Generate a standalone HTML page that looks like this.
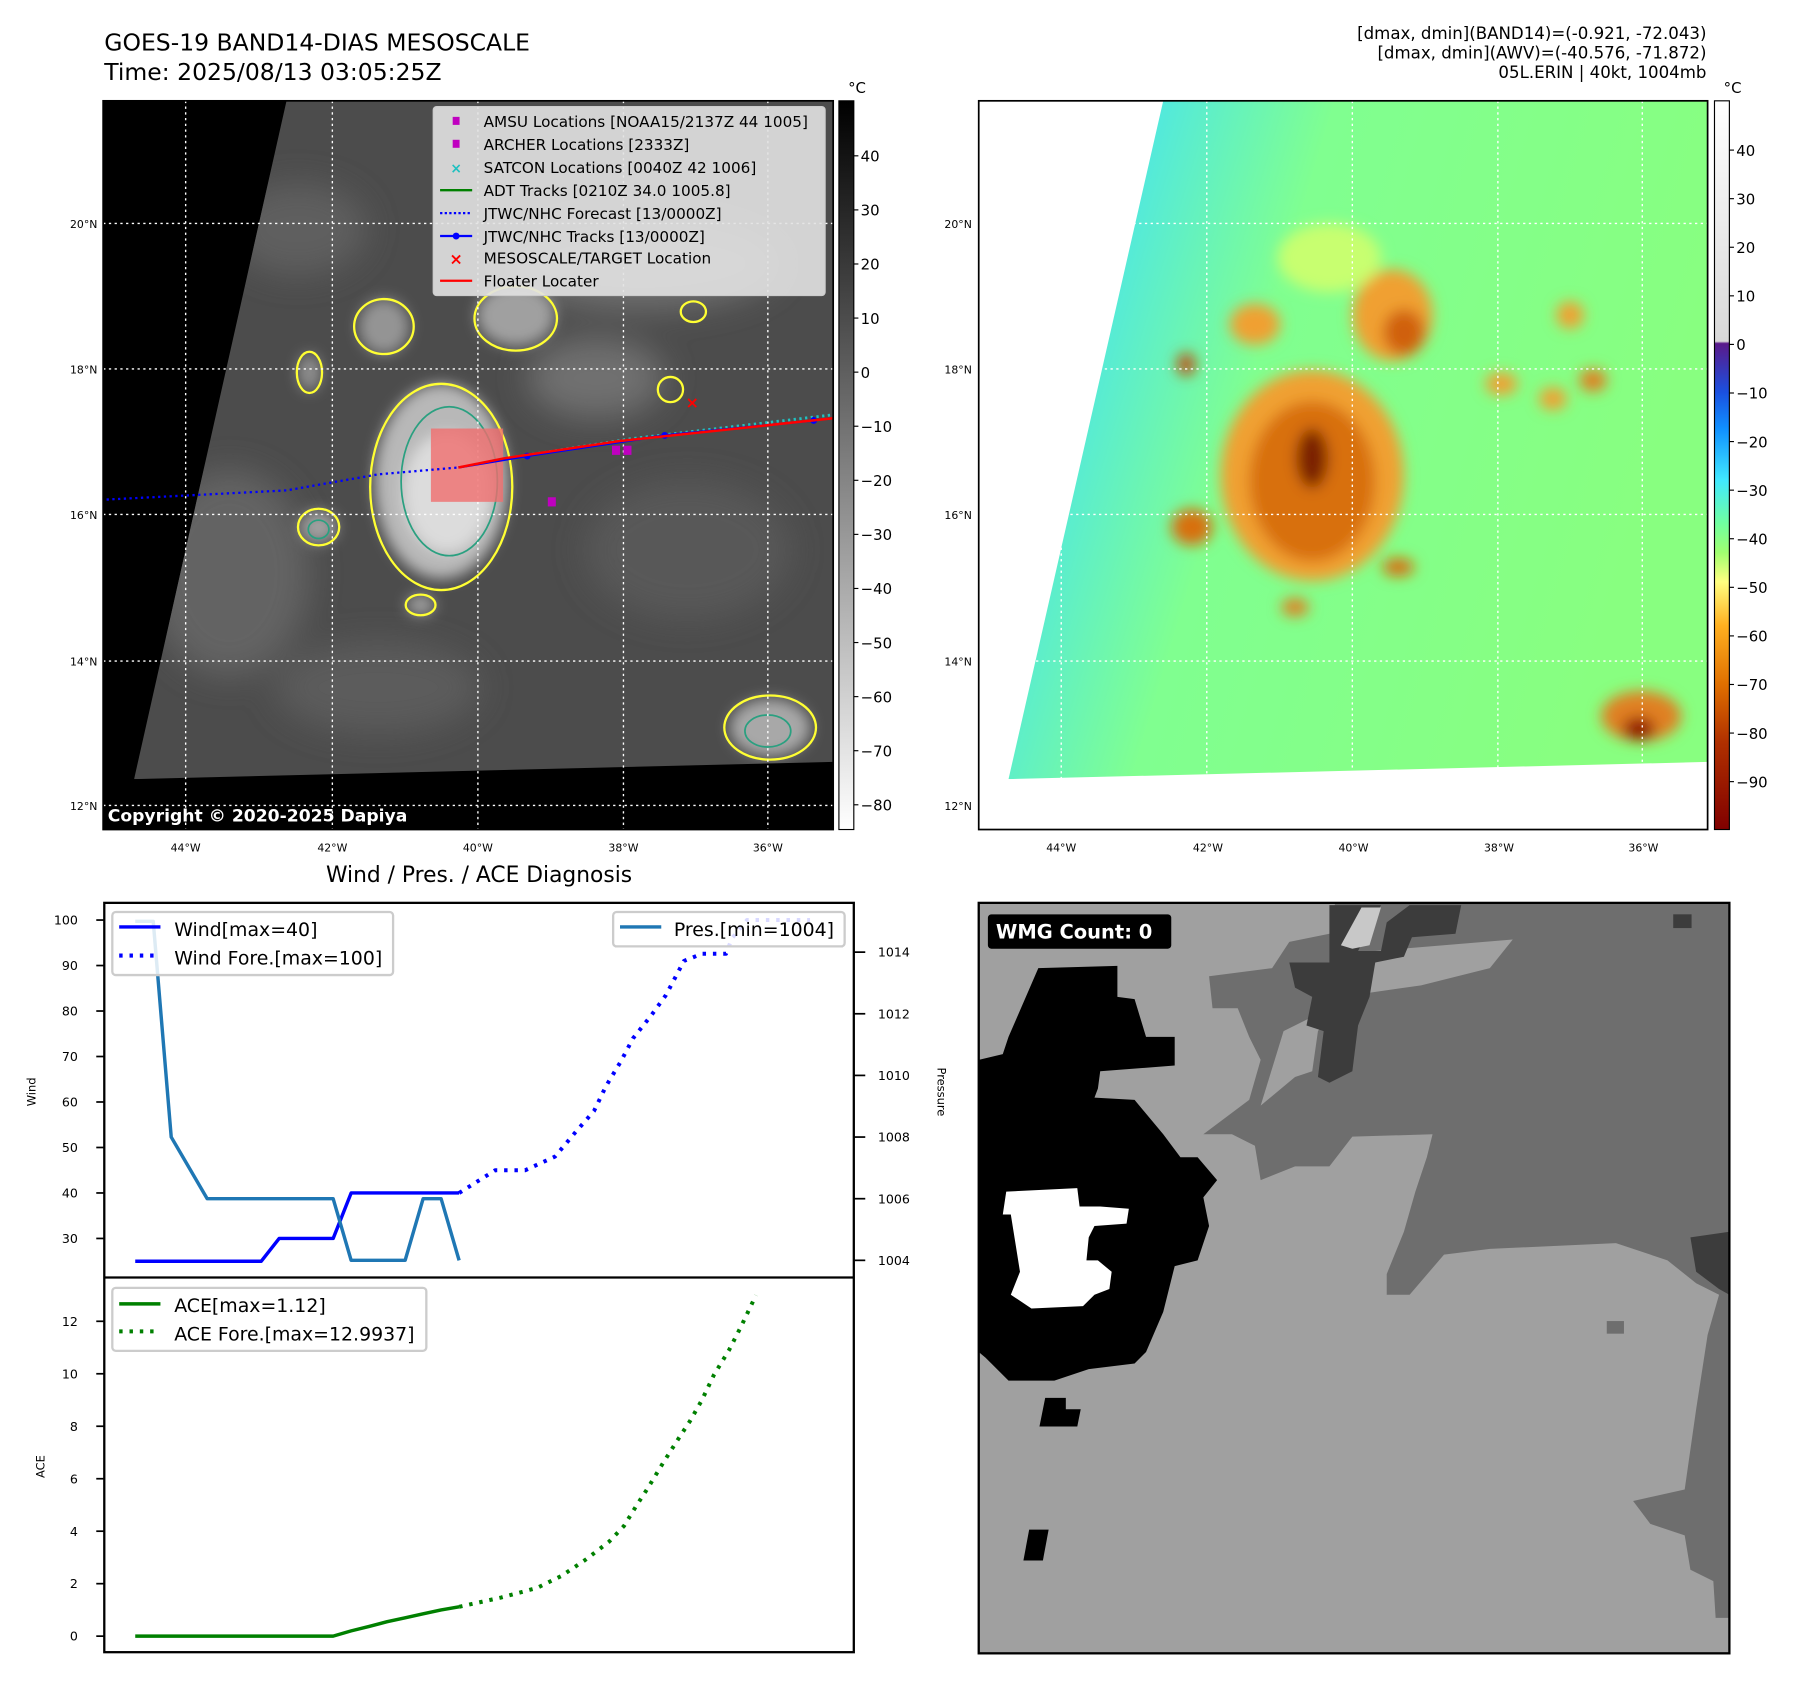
<!DOCTYPE html>
<html><head><meta charset="utf-8"><style>
html,body{margin:0;padding:0;background:#fff;}
svg{display:block;font-family:"DejaVu Sans","Liberation Sans",sans-serif;}
</style></head><body>
<svg id="root" width="1797" height="1690" viewBox="0 0 1568 1475" preserveAspectRatio="none">
<defs>
<linearGradient id="gcb" x1="0" y1="0" x2="0" y2="1"><stop offset="0" stop-color="#000"/><stop offset="1" stop-color="#fff"/></linearGradient>
<linearGradient id="ccb" x1="0" y1="0" x2="0" y2="1">
<stop offset="0" stop-color="#ffffff"/><stop offset="0.33" stop-color="#d8d8d8"/>
<stop offset="0.333" stop-color="#5a1a8a"/><stop offset="0.4" stop-color="#1a50e0"/><stop offset="0.45" stop-color="#1090ff"/>
<stop offset="0.52" stop-color="#40e8ff"/><stop offset="0.58" stop-color="#70ffa0"/><stop offset="0.62" stop-color="#a0ff70"/>
<stop offset="0.66" stop-color="#ffff80"/><stop offset="0.72" stop-color="#ffb020"/><stop offset="0.8" stop-color="#e07000"/>
<stop offset="0.88" stop-color="#b03000"/><stop offset="1" stop-color="#800000"/></linearGradient>
<linearGradient id="rbg" x1="0" y1="0" x2="1" y2="0.3"><stop offset="0" stop-color="#40d0ff"/><stop offset="0.22" stop-color="#50e8e0"/><stop offset="0.45" stop-color="#80ff90"/><stop offset="1" stop-color="#88ff80"/></linearGradient>
<filter id="bl" x="-50%" y="-50%" width="200%" height="200%"><feGaussianBlur stdDeviation="6"/></filter>
<filter id="bl2" x="-50%" y="-50%" width="200%" height="200%"><feGaussianBlur stdDeviation="14"/></filter>
<clipPath id="rclip"><polygon points="1015,88 1490,88 1490,665 880,680"/></clipPath>
<clipPath id="lclip2"><polygon points="250,88 727,88 727,665 117,680"/></clipPath>
</defs>

<text x="91" y="44" font-size="20.5">GOES-19 BAND14-DIAS MESOSCALE</text>
<text x="91" y="70" font-size="20.5">Time: 2025/08/13 03:05:25Z</text>
<g font-size="14.5" text-anchor="end">
<text x="1489" y="34">[dmax, dmin](BAND14)=(-0.921, -72.043)</text>
<text x="1489" y="51">[dmax, dmin](AWV)=(-40.576, -71.872)</text>
<text x="1489" y="68">05L.ERIN | 40kt, 1004mb</text>
</g>

<g>
<rect x="90" y="88" width="637" height="636" fill="#000"/>
<g clip-path="url(#lclip2)">
<rect x="90" y="88" width="637" height="636" fill="#4c4c4c"/>
<g filter="url(#bl2)" fill="#707070">
<ellipse cx="200" cy="500" rx="70" ry="90" fill="#636363"/><ellipse cx="560" cy="230" rx="120" ry="40"/>
<ellipse cx="260" cy="200" rx="60" ry="40" fill="#5e5e5e"/><ellipse cx="600" cy="480" rx="90" ry="60" fill="#595959"/>
<ellipse cx="330" cy="600" rx="90" ry="40" fill="#5c5c5c"/><ellipse cx="520" cy="330" rx="60" ry="35"/>
</g>
<g filter="url(#bl)">
<ellipse cx="385" cy="420" rx="58" ry="85" fill="#b8b8b8"/><ellipse cx="390" cy="430" rx="38" ry="52" fill="#dcdcdc"/>
<ellipse cx="450" cy="275" rx="34" ry="27" fill="#a0a0a0"/><ellipse cx="335" cy="285" rx="22" ry="24" fill="#949494"/>
<ellipse cx="278" cy="460" rx="16" ry="14" fill="#a0a0a0"/><ellipse cx="672" cy="635" rx="35" ry="25" fill="#a8a8a8"/>
<ellipse cx="367" cy="528" rx="12" ry="9" fill="#a0a0a0"/><ellipse cx="270" cy="325" rx="10" ry="16" fill="#909090"/>
</g>
<g fill="none" stroke="#ffff33" stroke-width="2">
<ellipse cx="385" cy="425" rx="62" ry="90"/><ellipse cx="450" cy="278" rx="36" ry="28"/><ellipse cx="335" cy="285" rx="26" ry="24"/>
<ellipse cx="278" cy="460" rx="18" ry="16"/><ellipse cx="672" cy="635" rx="40" ry="28"/><ellipse cx="367" cy="528" rx="13" ry="9"/>
<ellipse cx="270" cy="325" rx="11" ry="18"/><ellipse cx="605" cy="272" rx="11" ry="9"/><ellipse cx="585" cy="340" rx="11" ry="11"/>
</g>
<g fill="none" stroke="#2aa080" stroke-width="1.5">
<ellipse cx="392" cy="420" rx="42" ry="65"/><ellipse cx="670" cy="638" rx="20" ry="14"/><ellipse cx="278" cy="462" rx="9" ry="8"/>
</g>
</g>
<g stroke="#fff" stroke-width="1.2" stroke-dasharray="2,3">
<line x1="162" y1="88" x2="162" y2="724"/><line x1="290" y1="88" x2="290" y2="724"/><line x1="417" y1="88" x2="417" y2="724"/><line x1="544" y1="88" x2="544" y2="724"/><line x1="670" y1="88" x2="670" y2="724"/>
<line x1="90" y1="195" x2="727" y2="195"/><line x1="90" y1="322" x2="727" y2="322"/><line x1="90" y1="449" x2="727" y2="449"/><line x1="90" y1="577" x2="727" y2="577"/><line x1="90" y1="703" x2="727" y2="703"/>
</g>
<rect x="376" y="374" width="63" height="64" fill="rgba(240,110,110,0.8)"/>
<polyline points="93,436 250,428 330,414 400,408" fill="none" stroke="#0000ff" stroke-width="2" stroke-dasharray="2,3"/>
<polyline points="430,402 550,383 727,362" fill="none" stroke="#20c0c0" stroke-width="2.5" stroke-dasharray="2,3"/>
<polyline points="400,408 460,398 580,380 710,367" fill="none" stroke="#0000ff" stroke-width="2"/>
<g fill="#0000ff"><circle cx="460" cy="398" r="3"/><circle cx="580" cy="380" r="3"/><circle cx="710" cy="367" r="3"/></g>
<polyline points="400,408 440,400 540,385 727,365" fill="none" stroke="#ff0000" stroke-width="2.2"/>
<g fill="#c000c0"><rect x="534" y="389" width="7" height="8"/><rect x="544" y="389" width="7" height="8"/><rect x="478" y="434" width="7" height="8"/></g>
<text x="604" y="356" font-size="14" fill="#ff0000" text-anchor="middle" font-weight="bold">×</text>
<g>
<rect x="378" y="93" width="342" height="165" rx="3" fill="#e2e2e2" fill-opacity="0.9" stroke="#ccc"/>
<g font-size="13.3">
<rect x="395" y="102" width="6" height="7" fill="#c000c0"/><text x="422" y="111">AMSU Locations [NOAA15/2137Z 44 1005]</text>
<rect x="395" y="122" width="6" height="7" fill="#c000c0"/><text x="422" y="131">ARCHER Locations [2333Z]</text>
<text x="398" y="151" fill="#20c0c0" text-anchor="middle" font-size="12" font-weight="bold">×</text><text x="422" y="151">SATCON Locations [0040Z 42 1006]</text>
<line x1="384" y1="166" x2="412" y2="166" stroke="#008000" stroke-width="2"/><text x="422" y="171">ADT Tracks [0210Z 34.0 1005.8]</text>
<line x1="384" y1="186" x2="412" y2="186" stroke="#0000ff" stroke-width="2" stroke-dasharray="2,2"/><text x="422" y="191">JTWC/NHC Forecast [13/0000Z]</text>
<line x1="384" y1="206" x2="412" y2="206" stroke="#0000ff" stroke-width="2"/><circle cx="398" cy="206" r="3" fill="#0000ff"/><text x="422" y="211">JTWC/NHC Tracks [13/0000Z]</text>
<text x="398" y="231" fill="#ff0000" text-anchor="middle" font-size="14" font-weight="bold">×</text><text x="422" y="230">MESOSCALE/TARGET Location</text>
<line x1="384" y1="245" x2="412" y2="245" stroke="#ff0000" stroke-width="2"/><text x="422" y="250">Floater Locater</text>
</g></g>
<text x="94" y="717" font-size="15" font-weight="bold" fill="#fff">Copyright © 2020-2025 Dapiya</text>
<rect x="90" y="88" width="637" height="636" fill="none" stroke="#000" stroke-width="1.5"/>
</g>
<g>
<rect x="732" y="88" width="13" height="636" fill="url(#gcb)" stroke="#000" stroke-width="1"/>
<text x="740" y="81" font-size="13">°C</text>
<g font-size="13" id="lcbt"></g>
</g>

<g>
<rect x="854" y="88" width="636" height="636" fill="#fff"/>
<g clip-path="url(#rclip)">
<rect x="854" y="88" width="636" height="636" fill="url(#rbg)"/>
<g filter="url(#bl)">
<ellipse cx="1145" cy="415" rx="80" ry="92" fill="#f0a030"/><ellipse cx="1145" cy="420" rx="55" ry="70" fill="#d87010"/><ellipse cx="1145" cy="400" rx="14" ry="26" fill="#7a2000"/>
<ellipse cx="1215" cy="275" rx="35" ry="40" fill="#f0a030"/><ellipse cx="1225" cy="290" rx="18" ry="20" fill="#d06010"/>
<ellipse cx="1095" cy="283" rx="22" ry="18" fill="#f0a030"/><ellipse cx="1040" cy="460" rx="18" ry="16" fill="#d87010"/>
<ellipse cx="1432" cy="625" rx="35" ry="22" fill="#e08020"/><ellipse cx="1430" cy="636" rx="14" ry="10" fill="#901000"/>
<ellipse cx="1370" cy="275" rx="12" ry="12" fill="#f0a030"/><ellipse cx="1035" cy="318" rx="8" ry="10" fill="#c05010"/>
<ellipse cx="1220" cy="495" rx="14" ry="8" fill="#d87010"/><ellipse cx="1130" cy="530" rx="12" ry="8" fill="#e08020"/>
<ellipse cx="1310" cy="335" rx="14" ry="10" fill="#f0a030"/><ellipse cx="1390" cy="332" rx="12" ry="10" fill="#e08020"/>
<ellipse cx="1355" cy="348" rx="12" ry="10" fill="#f0a030"/><ellipse cx="1160" cy="225" rx="45" ry="30" fill="#c8ff70"/>
</g>
</g>
<g stroke="#fff" stroke-width="1.2" stroke-dasharray="2,3">
<line x1="926" y1="88" x2="926" y2="724"/><line x1="1053" y1="88" x2="1053" y2="724"/><line x1="1180" y1="88" x2="1180" y2="724"/><line x1="1307" y1="88" x2="1307" y2="724"/><line x1="1433" y1="88" x2="1433" y2="724"/>
<line x1="854" y1="195" x2="1490" y2="195"/><line x1="854" y1="322" x2="1490" y2="322"/><line x1="854" y1="449" x2="1490" y2="449"/><line x1="854" y1="577" x2="1490" y2="577"/><line x1="854" y1="703" x2="1490" y2="703"/>
</g>
<rect x="854" y="88" width="636" height="636" fill="none" stroke="#000" stroke-width="1.5"/>
</g>
<g>
<rect x="1496" y="88" width="13" height="636" fill="url(#ccb)" stroke="#000" stroke-width="1"/>
<text x="1504" y="81" font-size="13">°C</text>
<g font-size="13" id="rcbt"></g>
</g>
<g font-size="9.5" id="mapticks"></g>

<text x="418" y="770" font-size="19" text-anchor="middle">Wind / Pres. / ACE Diagnosis</text>
<g id="chart">
<rect x="91" y="788" width="654" height="654" fill="#fff" stroke="#000" stroke-width="2"/>
<line x1="91" y1="1115" x2="745" y2="1115" stroke="#000" stroke-width="2"/>
<text transform="translate(31,953) rotate(-90)" font-size="10" text-anchor="middle">Wind</text>
<text transform="translate(818,953) rotate(90)" font-size="10" text-anchor="middle">Pressure</text>
<text transform="translate(39,1280) rotate(-90)" font-size="10" text-anchor="middle">ACE</text>
<g id="ticks" font-size="11"></g>
<g id="series"></g>
<g>
<rect x="98" y="796" width="245" height="55" rx="3" fill="#fff" fill-opacity="0.85" stroke="#ccc" stroke-width="2"/>
<line x1="104" y1="809" x2="140" y2="809" stroke="#0000ff" stroke-width="3"/><text x="152" y="817" font-size="16.5">Wind[max=40]</text>
<line x1="104" y1="834" x2="140" y2="834" stroke="#0000ff" stroke-width="3.5" stroke-dasharray="3,6"/><text x="152" y="842" font-size="16.5">Wind Fore.[max=100]</text>
</g>
<g>
<rect x="535" y="796" width="202" height="30" rx="3" fill="#fff" fill-opacity="0.85" stroke="#ccc" stroke-width="2"/>
<line x1="541" y1="809" x2="577" y2="809" stroke="#1f77b4" stroke-width="3"/><text x="588" y="817" font-size="16.5">Pres.[min=1004]</text>
</g>
<g>
<rect x="98" y="1124" width="274" height="55" rx="3" fill="#fff" fill-opacity="0.85" stroke="#ccc" stroke-width="2"/>
<line x1="104" y1="1138" x2="140" y2="1138" stroke="#008000" stroke-width="3"/><text x="152" y="1145" font-size="16.5">ACE[max=1.12]</text>
<line x1="104" y1="1162" x2="140" y2="1162" stroke="#008000" stroke-width="3.5" stroke-dasharray="3,6"/><text x="152" y="1170" font-size="16.5">ACE Fore.[max=12.9937]</text>
</g>
</g>

<g>
<svg x="854" y="788" width="655" height="655" viewBox="854 788 655 655" overflow="hidden">
<rect x="854" y="788" width="655" height="655" fill="#a0a0a0"/>
<polygon fill="#6e6e6e" points="1055,852 1110,845 1125,822 1160,815 1165,788 1509,788 1509,1412 1497,1412 1495,1380 1475,1370 1470,1340 1440,1330 1425,1310 1470,1300 1480,1230 1490,1165 1500,1130 1480,1120 1455,1100 1410,1085 1300,1090 1260,1095 1230,1130 1210,1130 1210,1112 1225,1075 1235,1040 1245,1010 1250,990 1180,992 1160,1018 1130,1018 1100,1030 1095,1000 1075,990 1050,990 1090,960 1100,925 1090,905 1080,880 1058,880"/>
<polygon fill="#a0a0a0" points="1100,965 1130,940 1145,935 1150,900 1170,870 1240,860 1300,845 1320,820 1200,830 1180,870 1120,900"/>
<polygon fill="#3c3c3c" points="1160,790 1205,790 1195,810 1185,830 1205,830 1210,805 1230,790 1275,790 1270,815 1232,818 1225,835 1200,840 1195,870 1185,895 1180,935 1160,945 1150,940 1155,900 1140,895 1145,870 1130,862 1125,840 1160,840"/>
<polygon fill="#c8c8c8" points="1188,792 1205,792 1195,825 1180,828 1170,825"/>
<polygon fill="#3c3c3c" points="1475,1080 1509,1075 1509,1130 1500,1125 1480,1110"/>
<rect x="1460" y="798" width="16" height="12" fill="#3c3c3c"/>
<polygon fill="#000" points="906,845 975,843 975,870 990,872 1000,905 1025,905 1025,930 960,935 958,950 955,958 990,960 1015,990 1030,1010 1045,1010 1062,1030 1050,1045 1055,1070 1045,1100 1025,1105 1015,1145 1000,1180 990,1190 950,1195 920,1205 880,1205 860,1185 854,1180 854,925 875,920 880,905"/>
<polygon fill="#fff" points="878,1040 940,1037 942,1053 960,1053 985,1055 983,1068 955,1070 950,1080 948,1100 958,1100 970,1110 968,1125 955,1130 945,1140 900,1142 882,1130 890,1110 882,1060 875,1060"/>
<polygon fill="#000" points="912,1220 930,1220 930,1230 943,1230 940,1245 907,1245"/>
<polygon fill="#000" points="898,1335 915,1335 910,1362 893,1362"/>
<rect x="1402" y="1153" width="15" height="11" fill="#6e6e6e"/>
</svg>
<rect x="854" y="788" width="655" height="655" fill="none" stroke="#000" stroke-width="2"/>
<rect x="862" y="798" width="160" height="30" rx="3" fill="#000"/>
<text x="869" y="819" font-size="17" font-weight="bold" fill="#fff">WMG Count: 0</text>
</g>
</svg>

<script>
var NS='http://www.w3.org/2000/svg';
var windObs=[25,25,25,25,25,25,25,25,30,30,30,30,40,40,40,40,40,40,40];
var presObs=[1015,1015,1008,1007,1006,1006,1006,1006,1006,1006,1006,1006,1004,1004,1004,1004,1006,1006,1004];
var aceObs=[0,0,0,0,0,0,0,0,0,0,0,0,0.2,0.37,0.55,0.7,0.85,1.0,1.12];
var foreHours=[0,12,22,32,39,45,49,54,58,64,69,75,81,89,91,96,117];
var windFore=[40,45,45,48,53.5,58,63.5,69,74,79,83.5,91,92.6,92.6,96,100,100];
var aceForeHours=[0,14,26,34,42,50,55,59,63,68,73,77,81,85,90,94,99];
var aceFore=[1.12,1.47,1.84,2.29,2.9,3.6,4.2,4.95,5.66,6.6,7.5,8.2,9.0,9.96,10.9,11.8,12.99];
var windTicks=[30,40,50,60,70,80,90,100];
var presTicks=[1004,1006,1008,1010,1012,1014];
var aceTicks=[0,2,4,6,8,10,12];
var lonLabels=['44°W','42°W','40°W','38°W','36°W'];
var latLabels=['20°N','18°N','16°N','14°N','12°N'];
var grayTicks=[40,30,20,10,0,-10,-20,-30,-40,-50,-60,-70,-80];
var awvTicks=[40,30,20,10,0,-10,-20,-30,-40,-50,-60,-70,-80,-90];

function xIdx(i){return 118+i*15.7;}
function xHour(h){return xIdx(18+h/6);}
function yW(v){return 803+(100-v)*3.97;}
function yP(p){return 1100-(p-1004)*26.9;}
function yA(a){return 1428-a*22.9;}
function yGray(v){return 136+(40-v)*4.72;}
function yAwv(v){return 131+(40-v)*4.24;}

function mk(tag,attrs,parent){var e=document.createElementNS(NS,tag);for(var k in attrs)e.setAttribute(k,attrs[k]);parent.appendChild(e);return e;}
var series=document.getElementById('series');
function line(pts,color,w,dash,name){
  var e=mk('polyline',{points:pts.map(function(p){return p[0].toFixed(1)+','+p[1].toFixed(1);}).join(' '),fill:'none',stroke:color,'stroke-width':w,'stroke-linejoin':'round'},series);
  if(dash)e.setAttribute('stroke-dasharray',dash);
  
  
}
line(windObs.map(function(v,i){return [xIdx(i),yW(v)];}),'#0000ff',3,null,'wind-line');
line(foreHours.map(function(h,i){return [xHour(h),yW(windFore[i])];}),'#0000ff',3.5,'3,6','wind-forecast-line');
line(presObs.map(function(v,i){return [xIdx(i),yP(v)];}),'#1f77b4',3,null,'pressure-line');
line(aceObs.map(function(v,i){return [xIdx(i),yA(v)];}),'#008000',3,null,'ace-line');
line(aceForeHours.map(function(h,i){return [xHour(h),yA(aceFore[i])];}),'#008000',3.5,'3,6','ace-forecast-line');

var ticks=document.getElementById('ticks');
function tick(x1,y,x2,tx,anchor,label,name){
  mk('line',{x1:x1,y1:y,x2:x2,y2:y,stroke:'#000','stroke-width':1.5},ticks);
  var t=mk('text',{x:tx,y:y+4,'text-anchor':anchor},ticks);t.textContent=label;
  
  
}
windTicks.forEach(function(v){tick(84,yW(v),91,68,'end',v,'wind-tick-label');});
presTicks.forEach(function(v){tick(745,yP(v),755,766,'start',v,'pressure-tick-label');});
aceTicks.forEach(function(v){tick(84,yA(v),91,68,'end',v,'ace-tick-label');});

var lcb=document.getElementById('lcbt');
grayTicks.forEach(function(v){var y=yGray(v);mk('line',{x1:745,y1:y,x2:749,y2:y,stroke:'#000'},lcb);var t=mk('text',{x:751,y:y+5},lcb);t.textContent=(v<0?'\u2212'+(-v):v);
  
  });
var rcb=document.getElementById('rcbt');
awvTicks.forEach(function(v){var y=yAwv(v);mk('line',{x1:1509,y1:y,x2:1513,y2:y,stroke:'#000'},rcb);var t=mk('text',{x:1515,y:y+5},rcb);t.textContent=(v<0?'\u2212'+(-v):v);
  
  });

var mt=document.getElementById('mapticks');
var lonX=[162,290,417,544,670],latY=[195,322,449,577,703];
[0,764].forEach(function(off){
  lonLabels.forEach(function(s,i){var t=mk('text',{x:lonX[i]+off,y:743,'text-anchor':'middle'},mt);t.textContent=s;
    
    });
  latLabels.forEach(function(s,i){var t=mk('text',{x:(off?848:85),y:latY[i]+4,'text-anchor':'end'},mt);t.textContent=s;
    
    });
});
</script>
</body></html>
